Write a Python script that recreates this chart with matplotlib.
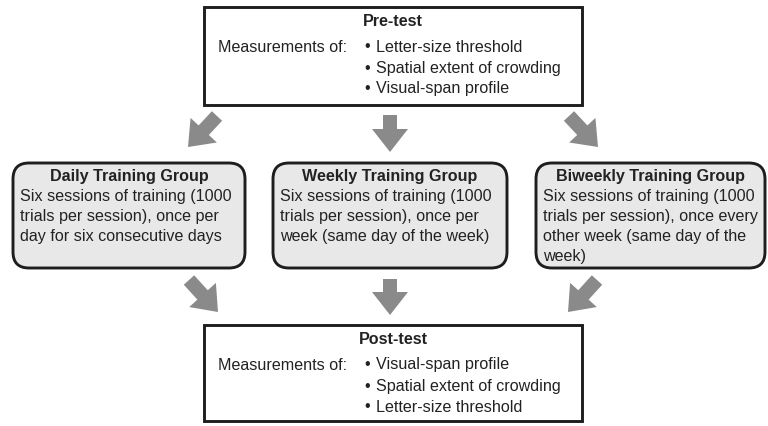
"""
Flow chart of the training study: pre-test, three training groups, post-test.
"""

import matplotlib.pyplot as plt
from matplotlib.patches import FancyBboxPatch, Rectangle, FancyArrow

# Content of the chart.
pre_title = 'Pre-test'
post_title = 'Post-test'
meas_label = 'Measurements of:'
pre_items = ['Letter-size threshold', 'Spatial extent of crowding', 'Visual-span profile']
post_items = ['Visual-span profile', 'Spatial extent of crowding', 'Letter-size threshold']

group_titles = ['Daily Training Group', 'Weekly Training Group', 'Biweekly Training Group']
group_lines = [
    ['Six sessions of training (1000', 'trials per session), once per',
     'day for six consecutive days'],
    ['Six sessions of training (1000', 'trials per session), once per',
     'week (same day of the week)'],
    ['Six sessions of training (1000', 'trials per session), once every',
     'other week (same day of the', 'week)'],
]

plt.rcParams['font.family'] = ['Liberation Sans', 'DejaVu Sans']

edge = '#1e1e1e'
fill = '#e8e8e8'
arrow_c = '#8a8a8a'
txt_c = '#222222'
fs = 11.6

fig = plt.figure(figsize=(7.68, 4.26), dpi=100)
ax = fig.add_axes([0, 0, 1, 1])
ax.set_xlim(0, 768)
ax.set_ylim(426, 0)
ax.axis('off')


def test_box(y0, y1, title, items):
    ax.add_patch(Rectangle((204, y0), 378, y1 - y0, facecolor='white',
                           edgecolor=edge, lw=2.1))
    ax.text(393, y0 + 15, title, ha='center', va='center', fontsize=fs,
            fontweight='bold', color=txt_c)
    ax.text(218, y0 + 40, meas_label, ha='left', va='center', fontsize=fs,
            color=txt_c)
    for i, item in enumerate(items):
        y = y0 + 40 + 21 * i
        ax.text(364, y, '\u2022', ha='left', va='center', fontsize=fs,
                color=txt_c)
        ax.text(376, y, item, ha='left', va='center', fontsize=fs, color=txt_c)


test_box(7, 105, pre_title, pre_items)
test_box(325, 421, post_title, post_items)

# Training group boxes.
boxes = [(13, 245), (273, 507), (536, 765)]
for (x0, x1), title, lines in zip(boxes, group_titles, group_lines):
    ax.add_patch(FancyBboxPatch((x0, 163), x1 - x0, 105,
                                boxstyle='round,pad=0,rounding_size=16',
                                facecolor=fill, edgecolor=edge, lw=2.1))
    ax.text((x0 + x1) / 2, 177, title, ha='center', va='center',
            fontsize=fs, fontweight='bold', color=txt_c)
    for i, line in enumerate(lines):
        ax.text(x0 + 7, 197 + 20 * i, line, ha='left', va='center',
                fontsize=fs, color=txt_c)

# Block arrows: (start x, start y, dx, dy).
arrows = [
    (217, 116, -29, 31), (390, 115, 0, 37), (569, 116, 29, 31),
    (189, 280, 29, 32), (390, 279, 0, 36), (597, 280, -29, 32),
]
for x, y, dx, dy in arrows:
    ax.add_patch(FancyArrow(x, y, dx, dy, width=14, head_width=36,
                            head_length=23, length_includes_head=True,
                            facecolor=arrow_c, edgecolor='none'))

plt.savefig('out.png', dpi=100)
